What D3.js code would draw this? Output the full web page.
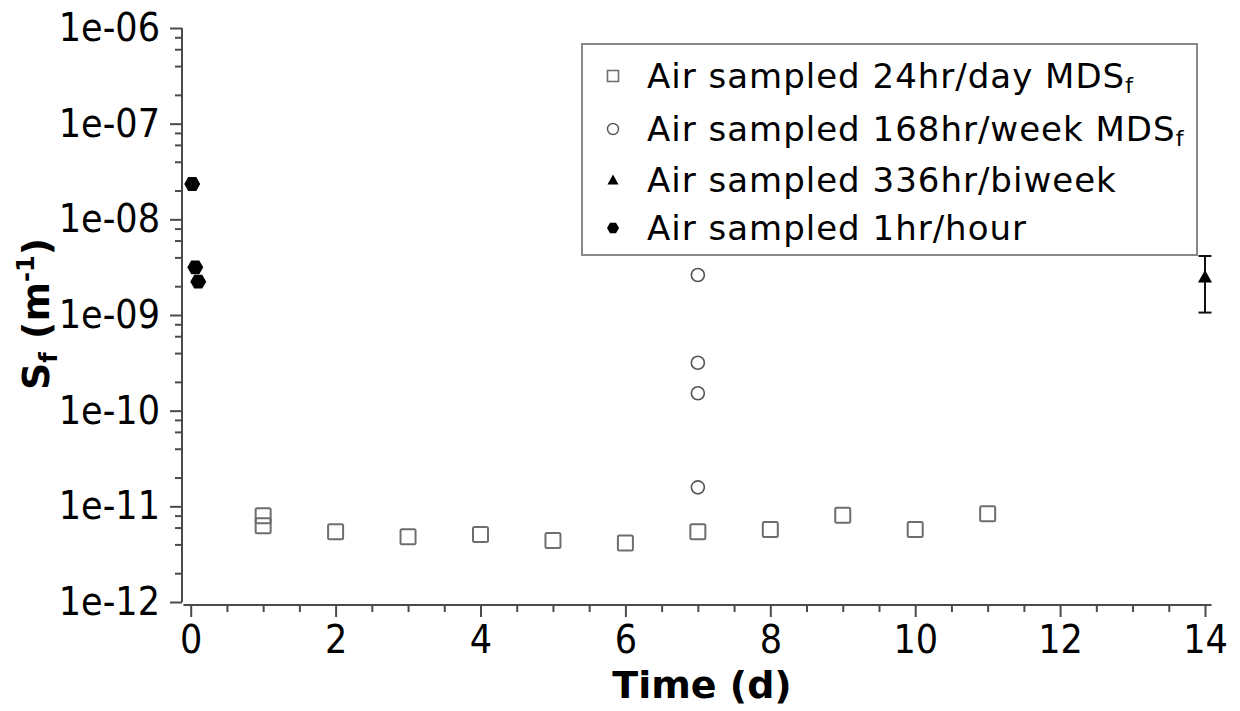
<!DOCTYPE html>
<html>
<head>
<meta charset="utf-8">
<script src="https://cdn.jsdelivr.net/npm/d3@7"></script>
<style>
  body { margin: 0; background: #fff; }
  svg { display: block; }
  .tick-label { font-family: "DejaVu Sans Condensed", "DejaVu Sans", sans-serif; font-stretch: condensed; font-size: 39px; fill: #000; }
</style>
</head>
<body>
<svg id="chart" width="1240" height="711"></svg>
<script>
// --- DATA ---
const dailyDays = [1, 1, 2, 3, 4, 5, 6, 7, 8, 9, 10, 11];
const dailySf = [7.96e-12, 6.27e-12, 5.43e-12, 4.82e-12, 5.08e-12, 4.39e-12, 4.14e-12, 5.43e-12, 5.73e-12, 8.06e-12, 5.73e-12, 8.36e-12];

const weeklyDays = [7, 7, 7, 7];
const weeklySf = [2.62e-9, 3.17e-10, 1.52e-10, 1.58e-11];

const biweeklyDays = [14];
const biweeklySf = [2.49e-9];
const biweeklyLow = [1.06e-9];
const biweeklyHigh = [4.14e-9];

const hourlyDays = [0.021, 0.063, 0.104];
const hourlySf = [2.34e-8, 3.15e-9, 2.23e-9];

const legendLabels = [
  ["Air sampled 24hr/day MDS", "f"],
  ["Air sampled 168hr/week MDS", "f"],
  ["Air sampled 336hr/biweek", ""],
  ["Air sampled 1hr/hour", ""]
];

const yMajorTicks = [1e-12, 1e-11, 1e-10, 1e-9, 1e-8, 1e-7, 1e-6];
const xMajorTicks = [0, 2, 4, 6, 8, 10, 12, 14];

// --- SETUP ---
const svg = d3.select("#chart");
svg.append("rect").attr("width", 1240).attr("height", 711).attr("fill", "#fff");

const x = d3.scaleLinear().domain([0, 14]).range([190.7, 1205]);
const y = d3.scaleLog().domain([1e-12, 1e-6]).range([602, 28]);

const axisColor = "#4a4a4a";
const yAxisX = 182, xAxisY = 605;

// minor tick values
const yMinorTicks = [];
yMajorTicks.slice(0, -1).forEach(d => [2, 4, 6, 8].forEach(m => yMinorTicks.push(d * m)));
const xMinorTicks = d3.range(0, 14.01, 0.5).filter(d => d % 2 !== 0);

const expFmt = d => "1e-" + String(Math.round(-Math.log10(d))).padStart(2, "0");

// --- Y AXIS ---
const yAxisG = svg.append("g").attr("transform", `translate(${yAxisX},0)`);
yAxisG.call(d3.axisLeft(y).tickValues(yMajorTicks).tickSize(12).tickSizeOuter(0).tickPadding(10).tickFormat(expFmt));
yAxisG.append("g").call(d3.axisLeft(y).tickValues(yMinorTicks).tickSize(7).tickSizeOuter(0).tickFormat(""));
yAxisG.selectAll(".domain").remove();
yAxisG.append("line").attr("y1", y(1e-6)).attr("y2", y(1e-12));

// --- X AXIS ---
const xAxisG = svg.append("g").attr("transform", `translate(0,${xAxisY})`);
xAxisG.call(d3.axisBottom(x).tickValues(xMajorTicks).tickSize(12).tickSizeOuter(0).tickPadding(8).tickFormat(d3.format("d")));
xAxisG.append("g").call(d3.axisBottom(x).tickValues(xMinorTicks).tickSize(7).tickSizeOuter(0).tickFormat(""));
xAxisG.selectAll(".domain").remove();
xAxisG.append("line").attr("x1", x(-0.1)).attr("x2", x(14.09));

svg.selectAll("line").attr("stroke", axisColor).attr("stroke-width", 2);
svg.selectAll(".tick text").attr("class", "tick-label").attr("font-size", null).attr("font-family", null).attr("fill", null);

// --- AXIS TITLES ---
svg.append("text")
  .attr("x", 702).attr("y", 698)
  .attr("text-anchor", "middle")
  .attr("font-family", "DejaVu Sans, sans-serif")
  .attr("font-weight", "bold").attr("font-size", 38)
  .text("Time (d)");

const yTitle = svg.append("text")
  .attr("transform", "translate(49,314) rotate(-90)")
  .attr("text-anchor", "middle")
  .attr("font-family", "DejaVu Sans, sans-serif")
  .attr("font-weight", "bold").attr("font-size", 38);
yTitle.append("tspan").text("S");
yTitle.append("tspan").attr("font-size", 24).attr("dy", 8).text("f");
yTitle.append("tspan").attr("dy", -8).text(" (m");
yTitle.append("tspan").attr("font-size", 24).attr("dy", -15).text("-1");
yTitle.append("tspan").attr("dy", 15).text(")");

// --- MARKERS ---
const hexPath = r => {
  const pts = d3.range(6).map(i => {
    const a = Math.PI / 3 * i;
    return [r * Math.cos(a), r * Math.sin(a)];
  });
  return "M" + pts.map(p => p.join(",")).join("L") + "Z";
};

const plot = svg.append("g");

// daily squares
plot.selectAll("rect.daily")
  .data(dailyDays.map((d, i) => ({ x: d, y: dailySf[i] })))
  .join("rect")
  .attr("class", "daily")
  .attr("x", d => x(d.x) - 7.5).attr("y", d => y(d.y) - 7.5)
  .attr("width", 15).attr("height", 15).attr("rx", 1.5)
  .attr("fill", "none").attr("stroke", "#6e6e6e").attr("stroke-width", 2);

// weekly circles
plot.selectAll("circle.weekly")
  .data(weeklyDays.map((d, i) => ({ x: d, y: weeklySf[i] })))
  .join("circle")
  .attr("class", "weekly")
  .attr("cx", d => x(d.x)).attr("cy", d => y(d.y)).attr("r", 6.5)
  .attr("fill", "none").attr("stroke", "#555").attr("stroke-width", 1.6);

// biweekly triangle with error bar
const bi = biweeklyDays.map((d, i) => ({ x: d, y: biweeklySf[i], lo: biweeklyLow[i], hi: biweeklyHigh[i] }));
const biG = plot.selectAll("g.biweekly").data(bi).join("g").attr("class", "biweekly")
  .attr("stroke", "#111").attr("stroke-width", 2);
biG.append("line").attr("x1", d => x(d.x)).attr("x2", d => x(d.x)).attr("y1", d => y(d.hi)).attr("y2", d => y(d.lo));
biG.append("line").attr("x1", d => x(d.x) - 6.5).attr("x2", d => x(d.x) + 6.5).attr("y1", d => y(d.hi)).attr("y2", d => y(d.hi));
biG.append("line").attr("x1", d => x(d.x) - 6.5).attr("x2", d => x(d.x) + 6.5).attr("y1", d => y(d.lo)).attr("y2", d => y(d.lo));
biG.append("path")
  .attr("d", "M0,-7L7,5.5L-7,5.5Z")
  .attr("transform", d => `translate(${x(d.x)},${y(d.y)})`)
  .attr("fill", "#000").attr("stroke", "none");

// hourly hexagons
plot.selectAll("path.hourly")
  .data(hourlyDays.map((d, i) => ({ x: d, y: hourlySf[i] })))
  .join("path")
  .attr("class", "hourly")
  .attr("d", hexPath(8))
  .attr("transform", d => `translate(${x(d.x)},${y(d.y)})`)
  .attr("fill", "#000");

// --- LEGEND ---
const legend = svg.append("g");
legend.append("rect")
  .attr("x", 582).attr("y", 44).attr("width", 615).attr("height", 211)
  .attr("fill", "#fff").attr("stroke", "#888").attr("stroke-width", 2);

const rowY = [76, 129, 180, 228];
const symX = 613;
legend.append("rect").attr("x", symX - 5.5).attr("y", rowY[0] - 5.5).attr("width", 11).attr("height", 11)
  .attr("fill", "none").attr("stroke", "#6e6e6e").attr("stroke-width", 1.6);
legend.append("circle").attr("cx", symX).attr("cy", rowY[1]).attr("r", 5.5)
  .attr("fill", "none").attr("stroke", "#555").attr("stroke-width", 1.4);
legend.append("path").attr("d", "M0,-5.5L5.5,4.5L-5.5,4.5Z").attr("transform", `translate(${symX},${rowY[2]})`).attr("fill", "#000");
legend.append("path").attr("d", hexPath(6)).attr("transform", `translate(${symX},${rowY[3]})`).attr("fill", "#000");

legendLabels.forEach((lab, i) => {
  const t = legend.append("text")
    .attr("x", 647).attr("y", rowY[i] + 12)
    .attr("font-family", "DejaVu Sans, sans-serif")
    .attr("font-size", 34).attr("letter-spacing", 1)
    .attr("fill", "#000");
  t.append("tspan").text(lab[0]);
  if (lab[1]) t.append("tspan").attr("font-size", 22).attr("dy", 5).text(lab[1]);
});
</script>
</body>
</html>
